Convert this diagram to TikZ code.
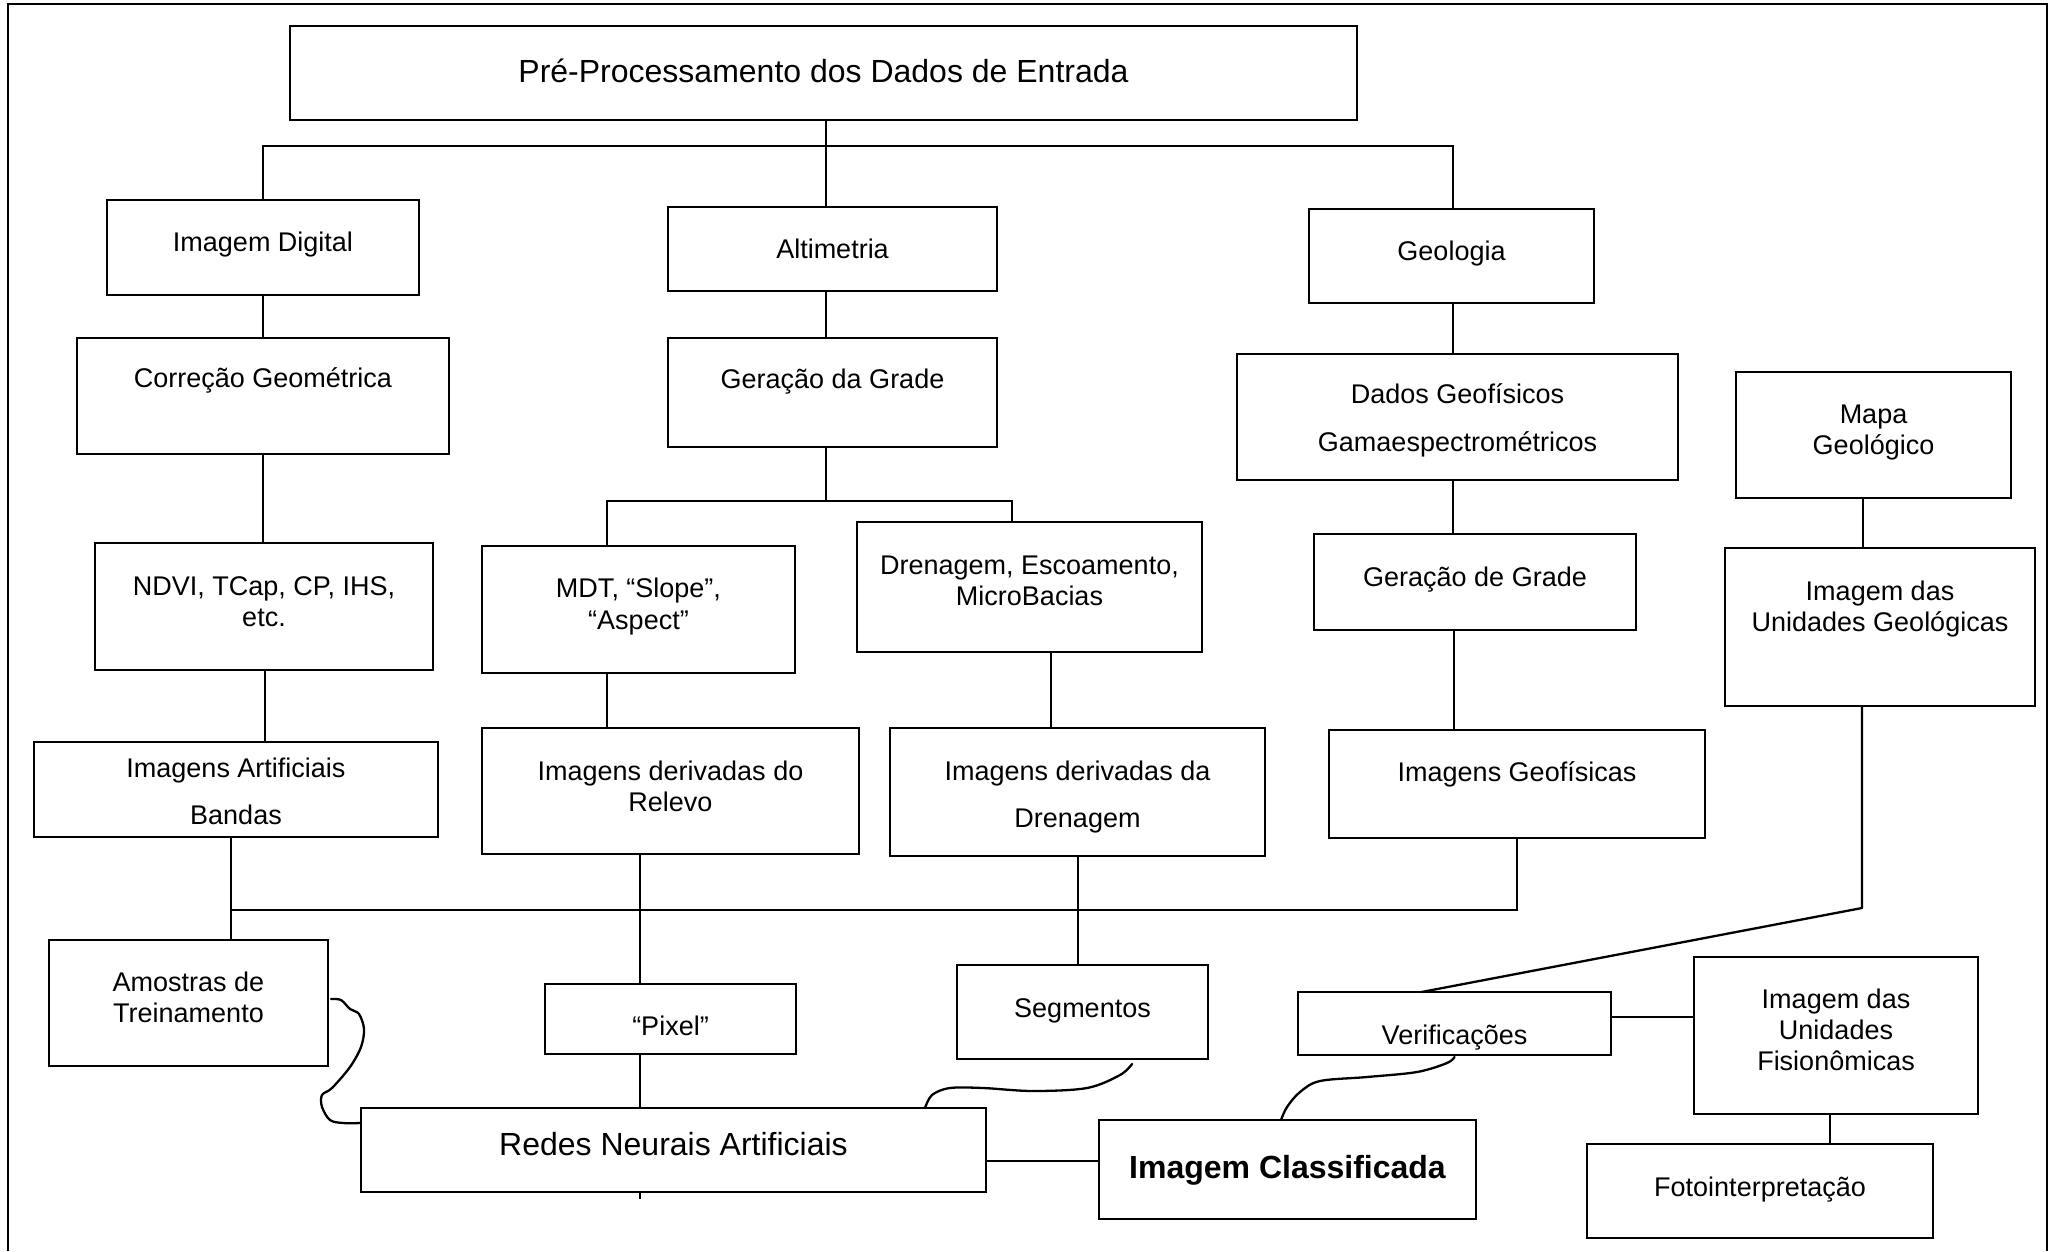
\documentclass[tikz,border=0pt]{standalone}
\usepackage{fontspec}
\setmainfont{Liberation Sans}
\usetikzlibrary{calc}

% box from corner (x1,y1) to (x2,y2), y measured downwards
\newcommand\mkbox[5]{%
  \node[box,minimum width={(#4-#2)*1pt},minimum height={(#5-#3)*1pt}]
    (#1) at ({(#2+#4)/2},{(#3+#5)/2}) {};}

\tikzset{
  box/.style={draw,line width=2.4pt,inner sep=0pt,outer sep=0pt},
  lbl/.style={inner sep=0pt,anchor=north,align=center,
    font=\fontsize{27}{31}\selectfont},
  biglbl/.style={inner sep=0pt,anchor=north,align=center,
    font=\fontsize{32}{38}\selectfont},
  conn/.style={line width=1.9pt},
  curv/.style={line width=2.3pt,line cap=round,line join=round},
  frame/.style={line width=2.6pt}
}

\begin{document}
\begin{tikzpicture}[x=1pt,y=-1pt]
\useasboundingbox (0,0) rectangle (2055,1251);

% outer frame, open at the bottom
\draw[frame] (8,1251) -- (8,4) -- (2047,4) -- (2047,1251);

% boxes
\mkbox{title}{290}{26}{1357}{120}
\mkbox{imgdig}{107}{200}{419}{295}
\mkbox{altim}{668}{207}{997}{291}
\mkbox{geol}{1309}{209}{1594}{303}
\mkbox{correcao}{77}{338}{449}{454}
\mkbox{geracao}{668}{338}{997}{447}
\mkbox{dados}{1237}{354}{1678}{480}
\mkbox{mapa}{1736}{372}{2011}{498}
\mkbox{ndvi}{95}{543}{433}{670}
\mkbox{mdt}{482}{546}{795}{673}
\mkbox{dren}{857}{522}{1202}{652}
\mkbox{gradegeo}{1314}{534}{1636}{630}
\mkbox{unigeol}{1725}{548}{2035}{706}
\mkbox{imgart}{34}{742}{438}{837}
\mkbox{imgrel}{482}{728}{859}{854}
\mkbox{imgdren}{890}{728}{1265}{856}
\mkbox{imggeof}{1329}{730}{1705}{838}
\mkbox{amostras}{49}{940}{328}{1066}
\mkbox{pixel}{545}{984}{796}{1054}
\mkbox{segm}{957}{965}{1208}{1059}
\mkbox{verif}{1298}{992}{1611}{1055}
\mkbox{fision}{1694}{957}{1978}{1114}
\mkbox{redes}{361}{1108}{986}{1192}
\mkbox{imgclass}{1099}{1120}{1476}{1219}
\mkbox{foto}{1587}{1144}{1933}{1238}

% texts (anchored at the top of the first line)
\node[biglbl] (t-title) at (title.center |- 0,56) {\strut Pré-Processamento dos Dados de Entrada};
\node[lbl] (t-imgdig) at (imgdig.center |- 0,230) {\strut Imagem Digital};
\node[lbl] (t-altim) at (altim.center |- 0,237) {\strut Altimetria};
\node[lbl] (t-geol) at (geol.center |- 0,239) {\strut Geologia};
\node[lbl] (t-correcao) at (correcao.center |- 0,366) {\strut Correção Geométrica};
\node[lbl] (t-geracao) at (geracao.center |- 0,367) {\strut Geração da Grade};
\node[lbl] (t-dados) at (dados.center |- 0,382) {\strut Dados Geofísicos\\[17pt]\strut Gamaespectrométricos};
\node[lbl] (t-mapa) at (mapa.center |- 0,402) {\strut Mapa\\\strut Geológico};
\node[lbl] (t-ndvi) at (ndvi.center |- 0,574) {\strut NDVI, TCap, CP, IHS,\\\strut etc.};
\node[lbl] (t-mdt) at (mdt.center |- 0,576) {\strut MDT, “Slope”,\\[1pt]\strut “Aspect”};
\node[lbl] (t-dren) at (dren.center |- 0,553) {\strut Drenagem, Escoamento,\\\strut MicroBacias};
\node[lbl] (t-gradegeo) at (gradegeo.center |- 0,565) {\strut Geração de Grade};
\node[lbl] (t-unigeol) at (unigeol.center |- 0,579) {\strut Imagem das\\\strut Unidades Geológicas};
\node[lbl] (t-imgart) at (imgart.center |- 0,756) {\strut Imagens Artificiais\\[16pt]\strut Bandas};
\node[lbl] (t-imgrel) at (imgrel.center |- 0,759) {\strut Imagens derivadas do\\\strut Relevo};
\node[lbl] (t-imgdren) at (imgdren.center |- 0,759) {\strut Imagens derivadas da\\[16pt]\strut Drenagem};
\node[lbl] (t-imggeof) at (imggeof.center |- 0,760) {\strut Imagens Geofísicas};
\node[lbl] (t-amostras) at (amostras.center |- 0,970) {\strut Amostras de\\\strut Treinamento};
\node[lbl] (t-pixel) at (pixel.center |- 0,1014) {\strut “Pixel”};
\node[lbl] (t-segm) at (segm.center |- 0,996) {\strut Segmentos};
\node[lbl] (t-verif) at (verif.center |- 0,1023) {\strut Verificações};
\node[lbl] (t-fision) at (fision.center |- 0,987) {\strut Imagem das\\\strut Unidades\\\strut Fisionômicas};
\node[lbl] (t-foto) at (foto.center |- 0,1175) {\strut Fotointerpretação};
\node[biglbl] (t-redes) at (redes.center |- 0,1129) {\strut Redes Neurais Artificiais};
\node[biglbl,font=\fontsize{32}{38}\selectfont\bfseries] (t-imgclass) at (imgclass.center |- 0,1152) {\strut Imagem Classificada};

% bus positions
\coordinate (bus1) at (826,146);
\coordinate (bus2) at (826,501);
\coordinate (bus3) at (231,910);

% top level
\draw[conn] (title.south -| bus1) -- (bus1 |- altim.north);
\draw[conn] (imgdig.north) -- (imgdig.north |- bus1) -- ($(geol.north |- bus1)+(1.5,0)$) -- ($(geol.north)+(1.5,0)$);

% image branch
\draw[conn] (imgdig.south) -- (imgdig.south |- correcao.north);
\draw[conn] (correcao.south) -- (correcao.south |- ndvi.north);
\draw[conn] ($(ndvi.south)+(1,0)$) -- ($(ndvi.south |- imgart.north)+(1,0)$);
\draw[conn] (bus3 |- imgart.south) -- (bus3 |- amostras.north);

% altimetry branch
\draw[conn] (altim.south -| bus1) -- (bus1 |- geracao.north);
\draw[conn] (geracao.south -| bus2) -- (bus2);
\draw[conn] (607,501 |- mdt.north) -- (607,501) -- (1012,501) -- (1012,501 |- dren.north);
\draw[conn] (mdt.south -| 607,0) -- (607,0 |- imgrel.north);
\draw[conn] (dren.south -| 1051,0) -- (1051,0 |- imgdren.north);
\draw[conn] (imgrel.south -| 640,0) -- (640,0 |- pixel.north);
\draw[conn] (pixel.south -| 640,0) -- (640,0 |- redes.north);
\draw[conn] (redes.south -| 640,0) -- ++(0,7);
\draw[conn] (imgdren.south -| 1078,0) -- (1078,0 |- segm.north);

% geology branch
\draw[conn] (geol.south -| 1453,0) -- (1453,0 |- dados.north);
\draw[conn] (dados.south -| 1453,0) -- (1453,0 |- gradegeo.north);
\draw[conn] (gradegeo.south -| 1454,0) -- (1454,0 |- imggeof.north);
\draw[conn] (imggeof.south) -- (imggeof.south |- bus3) -- (bus3);
\draw[conn] (mapa.south -| 1863,0) -- (1863,0 |- unigeol.north);
\draw[curv] (unigeol.south -| 1862,0) -- (1862,908) -- ($(verif.north)+(-33,0)$);

% lower part
\draw[conn] (verif.east |- 0,1017) -- (fision.west |- 0,1017);
\draw[conn] (fision.south -| 1830,0) -- (1830,0 |- foto.north);
\draw[conn] (redes.east |- 0,1161) -- (imgclass.west |- 0,1161);

% hand-drawn links
\draw[curv] plot[smooth,tension=0.55] coordinates {
  ($(amostras.east)+(3,-4)$) (341,1000) (350,1009) (359,1014) (364,1029)
  (361,1047) (350,1067) (332,1088) (322,1095) (322,1107) (330,1120)
  (343,1123) ($(redes.west)+(0,-27)$)};
\draw[curv] plot[smooth,tension=0.55] coordinates {
  ($(segm.south)+(49.5,5)$) (1120,1075) (1087,1088) (1033,1091)
  (983,1088) (950,1088) (932,1095) ($(redes.north)+(251.5,0)$)};
\draw[curv] plot[smooth,tension=0.55] coordinates {
  ($(verif.south)+(0,2)$) (1447,1063) (1417,1072) (1367,1077)
  (1320,1081) (1300,1092) (1287,1107) ($(imgclass.north)+(-6.5,0)$)};
\end{tikzpicture}
\end{document}
